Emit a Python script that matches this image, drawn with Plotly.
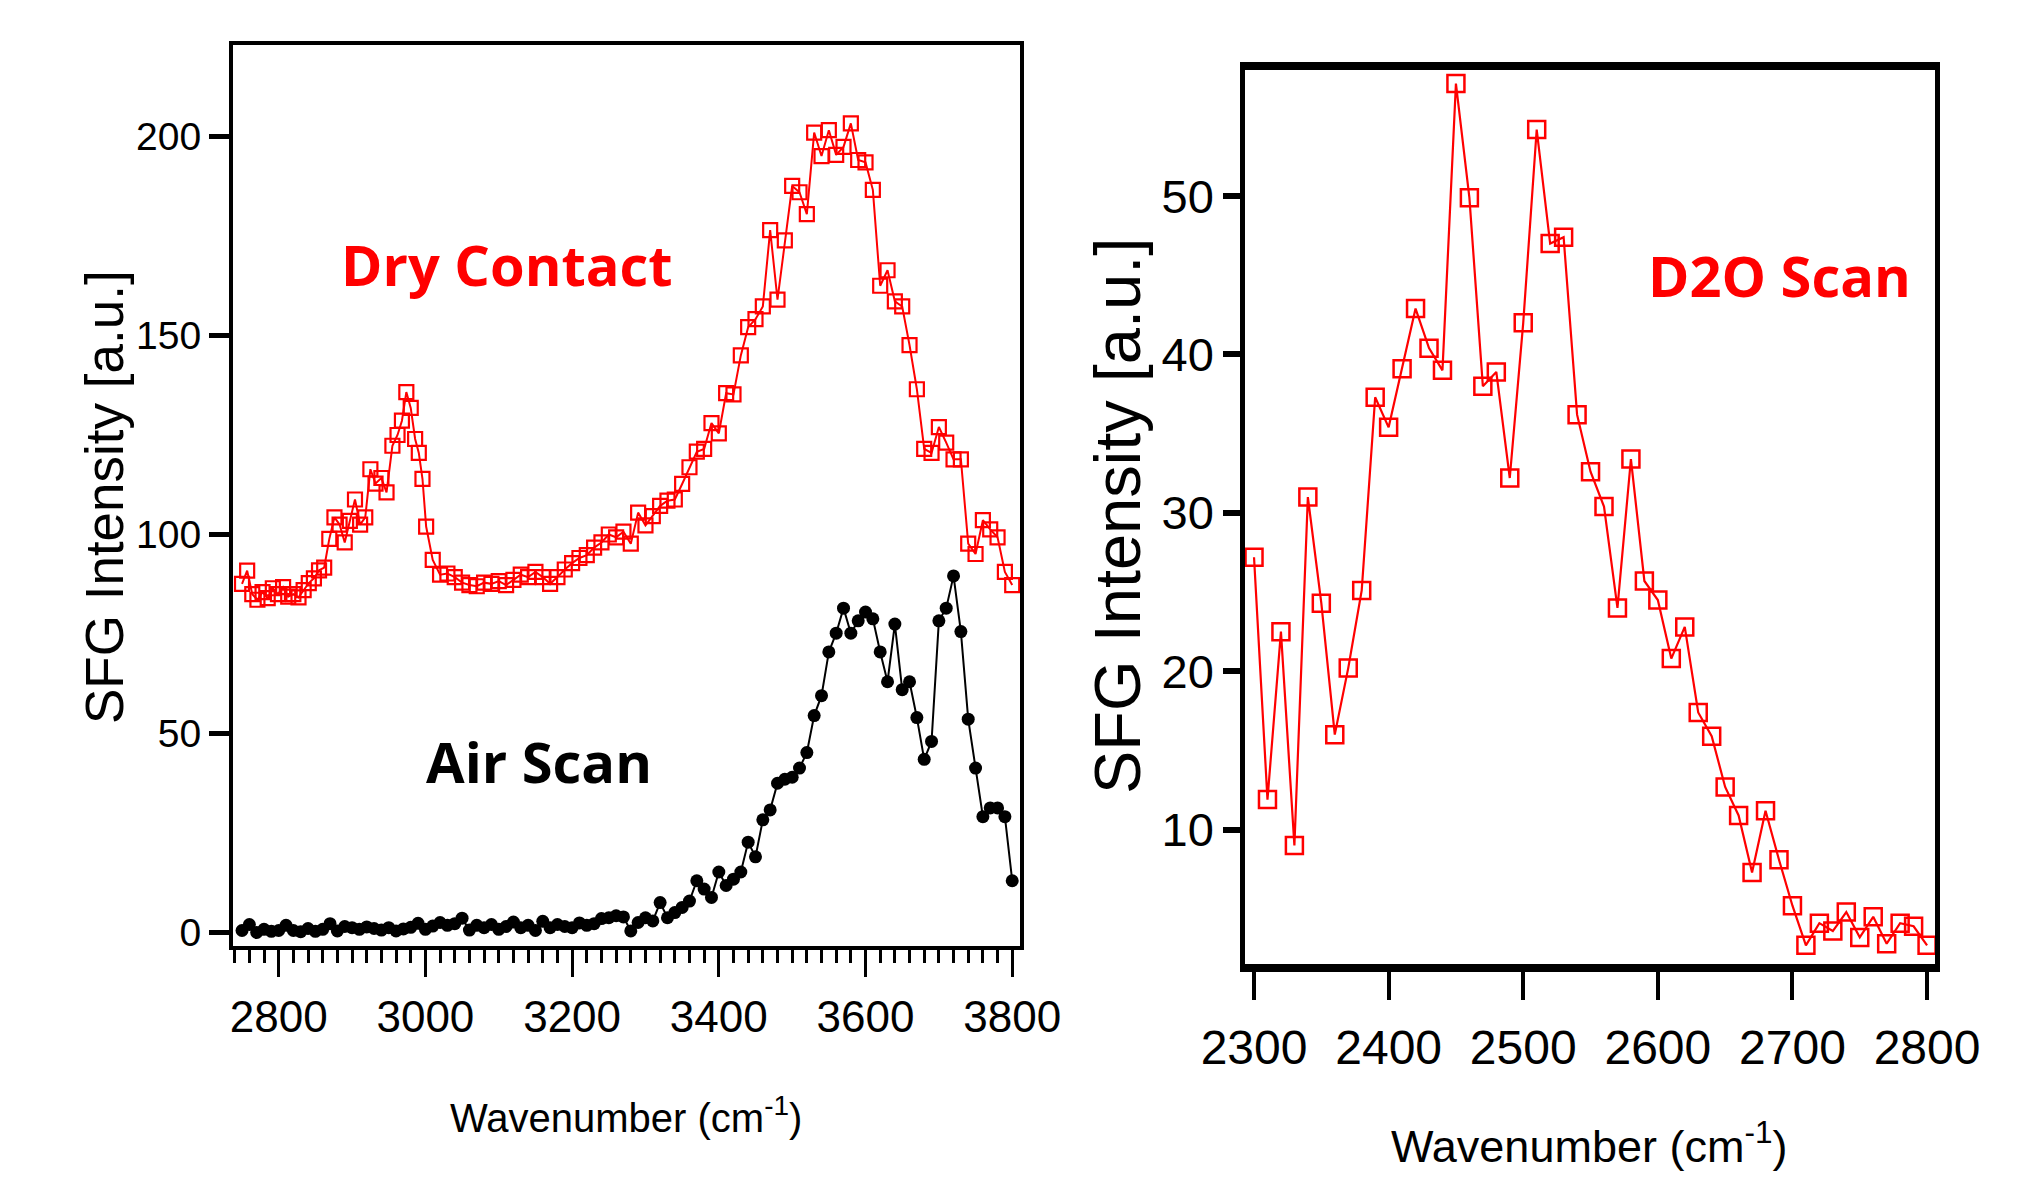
import plotly.graph_objects as go

# ---------------- data ----------------
dry_x = [2750, 2757, 2764, 2771, 2778, 2785, 2792, 2799, 2806, 2813, 2820, 2827, 2834, 2841,
         2848, 2855, 2862, 2869, 2876, 2883, 2890, 2897, 2904, 2911, 2918, 2925, 2932, 2940,
         2947, 2955, 2962, 2968, 2974, 2980, 2986, 2991, 2996, 3001,
         3010, 3020, 3030, 3040, 3050, 3060, 3070, 3080, 3090, 3100, 3110, 3120, 3130, 3140,
         3150, 3160, 3170, 3180, 3190, 3200, 3210, 3220, 3230, 3240, 3250, 3260, 3270, 3280,
         3290, 3300, 3310, 3320, 3330, 3340, 3350, 3360, 3370, 3380, 3390, 3400, 3410, 3420,
         3430, 3440, 3450, 3460, 3470, 3480, 3490, 3500, 3510, 3520, 3530, 3540, 3550, 3560,
         3570, 3580, 3590, 3600, 3610, 3620, 3630, 3640, 3650, 3660, 3670, 3680, 3690, 3700,
         3710, 3720, 3730, 3740, 3750, 3760, 3770, 3780, 3790, 3800]
dry_y = [87.6, 90.9, 85.0, 83.6, 85.5, 84.0, 86.5, 85.0, 86.8, 84.4, 85.0, 84.2, 86.0, 87.8,
         89.0, 91.0, 91.7, 98.9, 104.3, 102.5, 98.0, 103.4, 108.8, 102.5, 104.3, 116.4, 112.8, 114.2,
         110.6, 122.3, 125.0, 128.6, 135.8, 131.8, 124.0, 120.5, 114.0, 102.0,
         93.6, 89.9, 90.2, 89.3, 87.9, 87.3, 87.0, 87.9, 87.6, 88.3, 87.3, 88.6, 89.9, 89.3,
         90.6, 89.3, 87.6, 89.3, 91.2, 92.8, 94.1, 94.8, 96.7, 98.0, 100.0, 99.3, 100.7, 97.7,
         105.5, 102.3, 104.6, 107.2, 108.5, 108.8, 112.7, 116.9, 120.8, 121.5, 128.0, 125.4, 135.5, 135.2,
         145.0, 152.1, 154.1, 157.3, 176.5, 159.0, 173.9, 187.6, 186.0, 180.5, 201.0, 195.1, 201.6, 195.4,
         197.4, 203.3, 194.1, 193.5, 186.6, 162.5, 166.4, 158.6, 157.3, 147.6, 136.5, 121.5, 120.5, 127.0,
         123.1, 118.9, 118.9, 97.7, 95.1, 103.6, 101.3, 99.3, 90.6, 87.3]

air_x = list(range(2750, 3801, 10))
air_y = [0.5, 2.0, 0.0, 0.8, 0.3, 0.5, 1.8, 0.5, 0.2, 1.0, 0.3, 0.8, 2.2, 0.4, 1.5, 1.2, 0.8, 1.4,
         1.0, 0.6, 1.2, 0.4, 0.9, 1.3, 2.3, 0.8, 1.6, 2.5, 1.8, 2.2, 3.6, 0.6, 1.8, 1.2, 2.0, 0.8,
         1.5, 2.6, 1.2, 1.8, 0.5, 2.8, 1.2, 2.0, 1.5, 1.2, 2.4, 1.8, 2.2, 3.5, 3.7, 4.2, 3.9, 0.4,
         2.5, 3.7, 2.9, 7.5, 3.7, 5.0, 6.3, 7.9, 13.0, 10.9, 8.8, 15.2, 11.8, 13.4, 15.2, 22.7, 19.0,
         28.3, 30.8, 37.5, 38.5, 39.0, 41.3, 45.2, 54.5, 59.5, 70.5, 75.2, 81.5, 75.2, 78.3, 80.5,
         78.8, 70.5, 63.0, 77.5, 61.0, 63.0, 54.0, 43.5, 48.0, 78.3, 81.5, 89.6, 75.6, 53.6, 41.3,
         29.1, 31.3, 31.3, 29.1, 13.0]

d2o_x = list(range(2300, 2801, 10))
d2o_y = [27.2, 11.9, 22.5, 9.0, 31.0, 24.3, 16.0, 20.2, 25.1, 37.3, 35.4, 39.1, 42.9, 40.4, 39.0,
         57.1, 49.9, 38.0, 38.9, 32.2, 42.0, 54.2, 47.0, 47.4, 36.2, 32.6, 30.4, 24.0, 33.4, 25.7,
         24.5, 20.8, 22.8, 17.4, 15.9, 12.7, 10.9, 7.3, 11.2, 8.1, 5.2, 2.7, 4.1, 3.6, 4.8, 3.2,
         4.5, 2.8, 4.1, 3.9, 2.7]

left_yticks = [0, 50, 100, 150, 200]
left_xticks = [2800, 3000, 3200, 3400, 3600, 3800]
right_yticks = [10, 20, 30, 40, 50]
right_xticks = [2300, 2400, 2500, 2600, 2700, 2800]

# ---------------- figure ----------------
W, H = 2023, 1178
SANS = "Liberation Sans, Arial, Helvetica, sans-serif"
BOLD = "Open Sans, Lato, sans-serif"
RED = "#ff0000"


def px(x):
    return x / W


def py(y):
    return (H - y) / H


fig = go.Figure()

fig.add_trace(go.Scatter(x=air_x, y=air_y, mode="lines+markers", xaxis="x", yaxis="y",
                         line=dict(color="black", width=2),
                         marker=dict(symbol="circle", size=13, color="black"),
                         showlegend=False))
fig.add_trace(go.Scatter(x=dry_x, y=dry_y, mode="lines+markers", xaxis="x", yaxis="y",
                         line=dict(color=RED, width=2),
                         marker=dict(symbol="square-open", size=14, color=RED,
                                     line=dict(color=RED, width=2.2)),
                         showlegend=False))
fig.add_trace(go.Scatter(x=d2o_x, y=d2o_y, mode="lines+markers", xaxis="x2", yaxis="y2",
                         line=dict(color=RED, width=2.2),
                         marker=dict(symbol="square-open", size=17, color=RED,
                                     line=dict(color=RED, width=2.5)),
                         showlegend=False))

left_xrange = [2737.7, 3810.6]

fig.update_layout(
    width=W, height=H,
    margin=dict(l=0, r=0, t=0, b=0, autoexpand=False),
    paper_bgcolor="white", plot_bgcolor="white",
    xaxis=dict(domain=[px(233), px(1020)], range=left_xrange, anchor="y", automargin=False,
               showgrid=False, zeroline=False, showline=True, linecolor="black", linewidth=4,
               mirror=True, ticks="outside", tickmode="array", tickvals=left_xticks,
               ticklen=27, tickwidth=3, tickcolor="black", tickangle=0,
               ticklabelstandoff=2,
               tickfont=dict(family=SANS, size=44, color="black"),
               minor=dict(dtick=20, tick0=2800, ticks="outside", ticklen=13, tickwidth=3,
                          tickcolor="black", showgrid=False)),
    xaxis3=dict(overlaying="x", anchor="y", range=left_xrange, domain=[px(233), px(1020)],
                automargin=False,
                showgrid=False, zeroline=False, showline=True, linecolor="black", linewidth=4,
                ticks="outside", tickmode="linear", tick0=2800, dtick=100,
                ticklen=20, tickwidth=3, tickcolor="black", showticklabels=False),
    yaxis=dict(domain=[py(946), py(45)], range=[-3.4, 223], anchor="x", automargin=False,
               showgrid=False, zeroline=False, showline=True, linecolor="black", linewidth=4,
               mirror=True, ticks="outside", tickmode="array", tickvals=left_yticks,
               ticklen=20, tickwidth=5, tickcolor="black",
               tickfont=dict(family=SANS, size=39, color="black")),
    xaxis2=dict(domain=[px(1245), px(1935)], range=[2293.3, 2805.9], anchor="y2",
                automargin=False,
                showgrid=False, zeroline=False, showline=True, linecolor="black", linewidth=8,
                mirror=True, ticks="outside", tickmode="array", tickvals=right_xticks,
                ticklen=28, tickwidth=4, tickcolor="black", tickangle=0,
                ticklabelstandoff=6,
                tickfont=dict(family=SANS, size=48, color="black")),
    yaxis2=dict(domain=[py(964), py(69.5)], range=[1.52, 57.99], anchor="x2",
                automargin=False,
                showgrid=False, zeroline=False, showline=True, linecolor="black", linewidth=4.5,
                mirror=True, ticks="outside", tickmode="array", tickvals=right_yticks,
                ticklen=17, tickwidth=6, tickcolor="black",
                tickfont=dict(family=SANS, size=47, color="black")),
)

annotations = [
    # axis titles
    dict(text="SFG Intensity [a.u.]", x=px(104), y=py(497), textangle=-90,
         font=dict(family=SANS, size=53, color="black")),
    dict(text="SFG Intensity [a.u.]", x=px(1117), y=py(516), textangle=-90,
         font=dict(family=SANS, size=65, color="black")),
    dict(text="Wavenumber (cm<sup>-1</sup>)", x=px(626), y=py(1115),
         font=dict(family=SANS, size=40, color="black")),
    dict(text="Wavenumber (cm<sup>-1</sup>)", x=px(1589), y=py(1143),
         font=dict(family=SANS, size=45, color="black")),
    # labels
    dict(text="<b>Dry Contact</b>", x=px(507), y=py(264),
         font=dict(family=BOLD, size=56, color=RED)),
    dict(text="<b>Air Scan</b>", x=px(539), y=py(761),
         font=dict(family=BOLD, size=56, color="black")),
    dict(text="<b>D2O Scan</b>", x=px(1779), y=py(275),
         font=dict(family=BOLD, size=56, color=RED)),
]
for a in annotations:
    a.update(xref="paper", yref="paper", showarrow=False, xanchor="center", yanchor="middle")
fig.update_layout(annotations=annotations)

fig.write_html("out.html")
